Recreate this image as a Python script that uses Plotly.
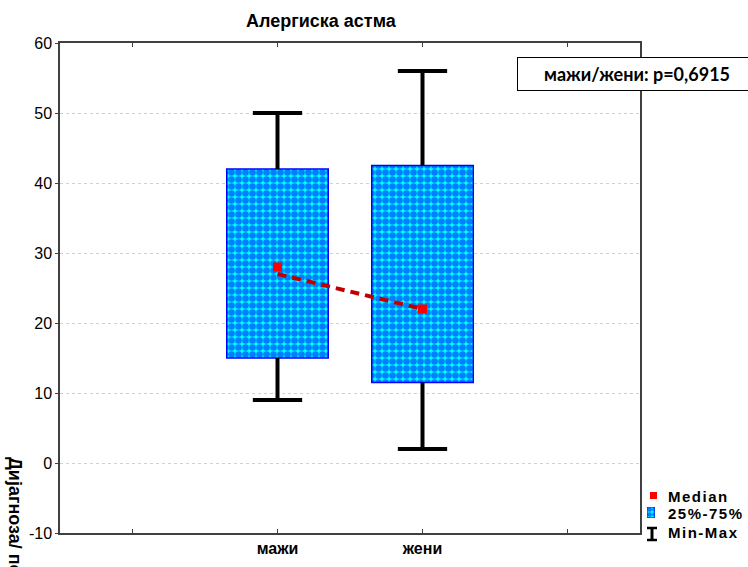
import plotly.graph_objects as go

# --- data -------------------------------------------------------------
categories = ["мажи", "жени"]
medians = [28, 22]
q1 = [15, 11.5]
q3 = [42, 42.5]
mins = [9, 2]
maxs = [50, 56]
trend = [27, 22]          # dashed connecting line
y_ticks = [-10, 0, 10, 20, 30, 40, 50, 60]
y_tick_text = ["-10", "0", "10", "20", "30", "40", "50", "60"]
title_text = "Алергиска астма"
y_title = "Дијагноза/ пол"
p_text = "мажи/жени: p=0,6915"
legend_labels = ["Median", "25%-75%", "Min-Max"]

# --- geometry helpers (pixel -> paper) ---------------------------------
W, H = 748, 567
L, R, T, B = 60, 0, 43, 34
PW, PH = W - L - R, H - T - B


def px(p):
    return (p - L) / PW


def py(p):
    return (H - B - p) / PH


FONT = "Liberation Sans, Arial, sans-serif"
xpos = [1, 2]
box_w = 0.70
cap_half = 0.17
BOX_BLUE = "#0000FF"
BOX_CYAN = "#00FFFF"

fig = go.Figure()

# whiskers with caps
wx, wy = [], []
for x, lo, a, b, hi in zip(xpos, mins, q1, q3, maxs):
    wx += [x, x, None, x, x, None, x - cap_half, x + cap_half, None, x - cap_half, x + cap_half, None]
    wy += [b, hi, None, lo, a, None, hi, hi, None, lo, lo, None]
fig.add_trace(go.Scatter(x=wx, y=wy, mode="lines",
                         line=dict(color="black", width=4),
                         hoverinfo="skip", showlegend=False))

# interquartile boxes with checker pattern
fig.add_trace(go.Bar(
    x=xpos, y=[b - a for a, b in zip(q1, q3)], base=q1, width=box_w,
    marker=dict(color=BOX_CYAN,
                line=dict(color=BOX_BLUE, width=1.5),
                pattern=dict(shape=".", fgcolor=BOX_BLUE, bgcolor=BOX_CYAN,
                             size=7, solidity=0.7)),
    showlegend=False, hoverinfo="skip"))

# dashed line and median markers
fig.add_trace(go.Scatter(x=xpos, y=trend, mode="lines",
                         line=dict(color="#C00000", width=4, dash="9px,6px"),
                         showlegend=False, hoverinfo="skip"))
fig.add_trace(go.Scatter(x=xpos, y=medians, mode="markers",
                         marker=dict(symbol="square", size=9, color="#FF0000"),
                         showlegend=False, hoverinfo="skip"))

# legend swatch for the box pattern on its own small hidden axes
fig.add_trace(go.Bar(
    x=[0], y=[1], width=1, xaxis="x2", yaxis="y2",
    marker=dict(color=BOX_CYAN, line=dict(color=BOX_BLUE, width=1),
                pattern=dict(shape=".", fgcolor=BOX_BLUE, bgcolor=BOX_CYAN,
                             size=5, solidity=0.7)),
    showlegend=False, hoverinfo="skip"))

axis_col = "#404040"
fig.update_layout(
    width=W, height=H,
    margin=dict(l=L, r=R, t=T, b=B),
    plot_bgcolor="white", paper_bgcolor="white",
    barmode="overlay",
    font=dict(family=FONT, color="black", size=16),
    xaxis=dict(domain=[0, px(640)], range=[-0.5, 3.5],
               tickvals=[0, 1, 2, 3],
               ticktext=["", "<b>" + categories[0] + "</b>", "<b>" + categories[1] + "</b>", ""],
               ticks="inside", ticklen=4, tickcolor=axis_col,
               showline=True, linecolor=axis_col, linewidth=1.5, mirror="ticks",
               showgrid=False, zeroline=False,
               tickfont=dict(size=16, family=FONT)),
    yaxis=dict(range=[-10, 60], tickvals=y_ticks, ticktext=y_tick_text,
               ticks="outside", ticklen=3, tickcolor=axis_col,
               showline=True, linecolor=axis_col, linewidth=1.5, mirror=True,
               showgrid=True, gridcolor="#d0d0d0", griddash="dot", gridwidth=1,
               zeroline=False, tickfont=dict(size=16, family=FONT)),
    xaxis2=dict(domain=[px(647), px(655)], range=[-0.5, 0.5], visible=False,
                anchor="y2", fixedrange=True),
    yaxis2=dict(domain=[py(518), py(507)], range=[0, 1], visible=False,
                anchor="x2", fixedrange=True),
    showlegend=False,
)

annotations = [
    dict(text="<b>" + title_text + "</b>", x=px(321), y=py(21), xref="paper", yref="paper",
         xanchor="center", yanchor="middle",
         showarrow=False, font=dict(size=18, family=FONT)),
    dict(text="<b>" + y_title + "</b>", textangle=90, x=px(15), y=py(455),
         xref="paper", yref="paper", xanchor="center", yanchor="top",
         showarrow=False, font=dict(size=18, family=FONT)),
    dict(text="<b>" + p_text + "</b>", x=px(517), y=py(74), xref="paper", yref="paper",
         xanchor="left", yanchor="middle", width=236, height=30,
         bordercolor="black", borderwidth=1, bgcolor="white",
         showarrow=False, font=dict(size=18, family="Lato, Open Sans, sans-serif")),
]
for lab, yc in zip(legend_labels, [496, 513, 532]):
    annotations.append(dict(
        text="<span style='letter-spacing:1.5px'><b>" + lab + "</b></span>",
        x=px(666), y=py(yc), xref="paper", yref="paper", xanchor="left", yanchor="middle",
        showarrow=False, font=dict(size=15, family=FONT)))
fig.update_layout(annotations=annotations)

# legend glyphs: red median square and Min-Max I-beam
shapes = [
    dict(type="rect", xref="paper", yref="paper", x0=px(650), x1=px(657),
         y0=py(499), y1=py(492), fillcolor="#FF0000", line=dict(width=0)),
    dict(type="line", xref="paper", yref="paper", x0=px(652), x1=px(652),
         y0=py(540), y1=py(528), line=dict(color="black", width=3)),
    dict(type="line", xref="paper", yref="paper", x0=px(647), x1=px(657),
         y0=py(528), y1=py(528), line=dict(color="black", width=2.5)),
    dict(type="line", xref="paper", yref="paper", x0=px(647), x1=px(657),
         y0=py(540), y1=py(540), line=dict(color="black", width=2.5)),
]
fig.update_layout(shapes=shapes)

fig.write_html("out.html")
